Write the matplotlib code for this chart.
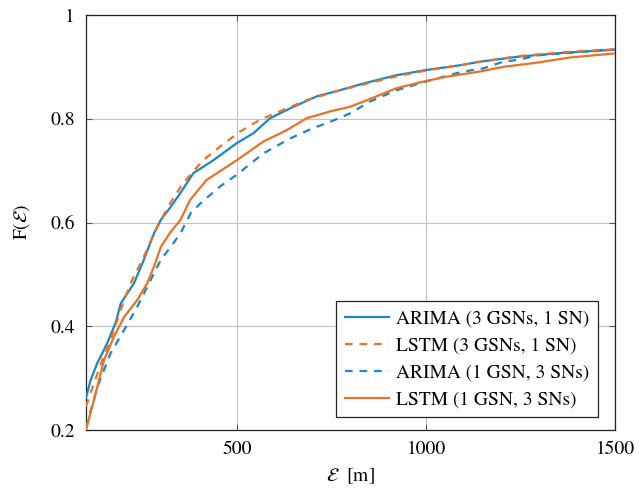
import matplotlib
matplotlib.use("Agg")
import matplotlib.pyplot as plt

plt.rcParams["font.family"] = ["STIXGeneral", "DejaVu Serif"]
plt.rcParams["mathtext.fontset"] = "stix"
plt.rcParams["lines.scale_dashes"] = False

BLUE = "#1b87c5"
ORANGE = "#ec7125"

# Empirical CDF of the localisation error, per predictor and network setup
arima_3gsn_x = [100, 112, 130, 156, 178, 192, 227, 253, 280, 298, 324, 349, 384, 437, 499,
                543, 587, 640, 710, 772, 834, 922, 1001, 1098, 1142, 1248, 1380, 1500]
arima_3gsn_y = [0.262, 0.296, 0.329, 0.367, 0.406, 0.444, 0.483, 0.528, 0.579, 0.605, 0.630,
                0.656, 0.695, 0.720, 0.753, 0.772, 0.801, 0.820, 0.843, 0.855, 0.868, 0.884,
                0.894, 0.904, 0.910, 0.920, 0.928, 0.933]

lstm_3gsn_x = [100, 121, 143, 165, 183, 201, 222, 253, 280, 305, 320, 357, 410, 454, 507,
               560, 622, 684, 772, 834, 922, 1001, 1098, 1142, 1248, 1380, 1500]
lstm_3gsn_y = [0.245, 0.290, 0.335, 0.373, 0.412, 0.451, 0.489, 0.534, 0.579, 0.614, 0.634,
               0.676, 0.720, 0.746, 0.775, 0.798, 0.817, 0.836, 0.855, 0.866, 0.882, 0.893,
               0.904, 0.910, 0.921, 0.929, 0.934]

arima_1gsn_x = [100, 130, 165, 201, 236, 271, 298, 324, 350, 377, 403, 454, 499, 569, 640,
                701, 746, 798, 851, 922, 1001, 1081, 1116, 1151, 1204, 1248, 1292, 1380,
                1469, 1500]
arima_1gsn_y = [0.205, 0.283, 0.348, 0.393, 0.438, 0.489, 0.528, 0.553, 0.579, 0.618, 0.637,
                0.669, 0.692, 0.733, 0.762, 0.782, 0.794, 0.810, 0.833, 0.855, 0.872, 0.888,
                0.893, 0.897, 0.910, 0.914, 0.922, 0.927, 0.933, 0.933]

lstm_1gsn_x = [100, 121, 148, 174, 201, 236, 262, 280, 298, 324, 350, 375, 419, 499, 569,
               631, 684, 745, 798, 834, 878, 922, 1001, 1054, 1142, 1204, 1292, 1380, 1500]
lstm_1gsn_y = [0.200, 0.258, 0.335, 0.380, 0.418, 0.451, 0.483, 0.515, 0.553, 0.582, 0.605,
               0.643, 0.682, 0.720, 0.756, 0.778, 0.801, 0.814, 0.823, 0.833, 0.846, 0.859,
               0.873, 0.881, 0.891, 0.900, 0.908, 0.918, 0.926]

labels = ["ARIMA (3 GSNs, 1 SN)", "LSTM (3 GSNs, 1 SN)",
          "ARIMA (1 GSN, 3 SNs)", "LSTM (1 GSN, 3 SNs)"]

fig = plt.figure(figsize=(6.39, 4.91), dpi=100)
ax = fig.add_axes([86 / 639, 1 - 430 / 491, 529 / 639, 415 / 491])

lw = 1.6
dash = (5.5, 5.0)
ax.plot(arima_3gsn_x, arima_3gsn_y, color=BLUE, lw=lw, label=labels[0], zorder=3)
ax.plot(lstm_3gsn_x, lstm_3gsn_y, color=ORANGE, lw=lw, dashes=dash, label=labels[1], zorder=4)
ax.plot(arima_1gsn_x, arima_1gsn_y, color=BLUE, lw=lw, dashes=dash, label=labels[2], zorder=3)
ax.plot(lstm_1gsn_x, lstm_1gsn_y, color=ORANGE, lw=lw, label=labels[3], zorder=4)

ax.set_xlim(100, 1500)
ax.set_ylim(0.2, 1.0)
ax.set_xticks([500, 1000, 1500])
ax.set_yticks([0.2, 0.4, 0.6, 0.8, 1.0])
ax.set_yticklabels(["0.2", "0.4", "0.6", "0.8", "1"])
ax.grid(True, color="#c0c0c0", lw=0.8)
ax.set_axisbelow(True)
ax.tick_params(direction="in", length=4, width=0.8, top=True, right=True,
               labelsize=14, pad=8, color="#555555")
for s in ax.spines.values():
    s.set_linewidth(0.9)
    s.set_color("#222222")

ax.set_xlabel(r"$\mathcal{E}\ $ [m]", fontsize=14, labelpad=6)
ax.set_ylabel(r"F($\mathcal{E}$)", fontsize=14, labelpad=13)

leg = ax.legend(loc="lower right", bbox_to_anchor=(0.968, 0.031), fontsize=14,
                frameon=True, fancybox=False, framealpha=1, edgecolor="#222222",
                handlelength=2.3, handletextpad=0.35, borderpad=0.45, labelspacing=0.48,
                borderaxespad=0.0)
leg.get_frame().set_linewidth(0.9)

fig.savefig("out.png", dpi=100)
